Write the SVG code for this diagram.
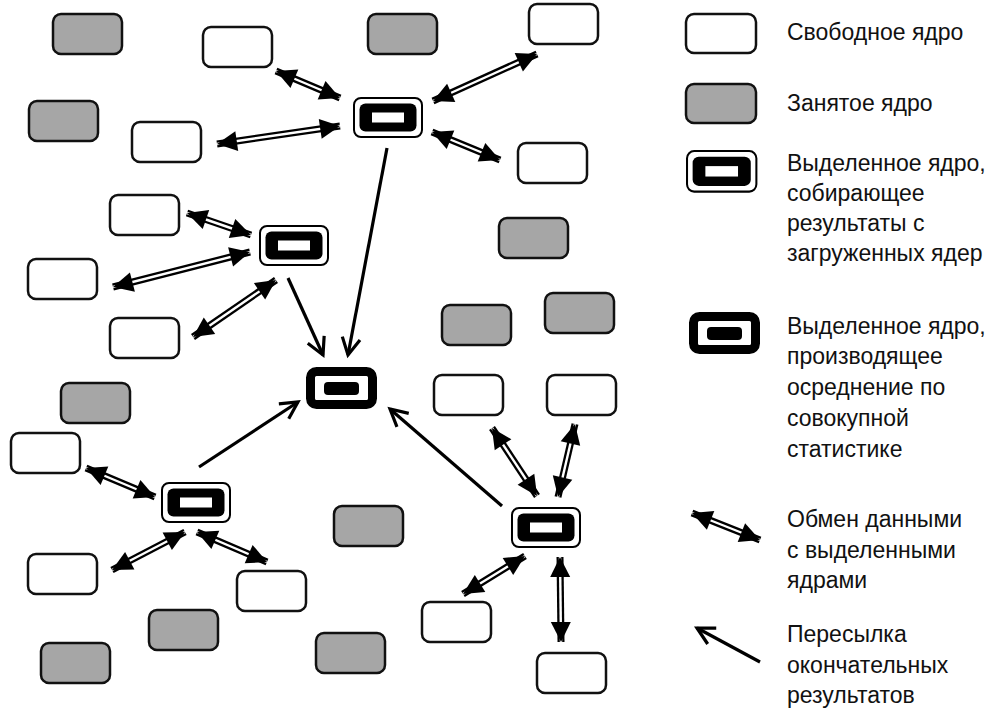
<svg xmlns="http://www.w3.org/2000/svg" width="998" height="708" viewBox="0 0 998 708">
<style>
.free{fill:#fff;stroke:#111;stroke-width:2.5}
.busy{fill:#a6a6a6;stroke:#111;stroke-width:2.5}
.shaft{stroke:#000;stroke-width:7;fill:none}
.gap{stroke:#fff;stroke-width:2.4;fill:none}
.dbl polygon{fill:#000}
.send{stroke:#000;stroke-width:3.2;fill:none;marker-end:url(#chev)}
text{font-family:"Liberation Sans",Arial,sans-serif;font-size:23px;fill:#111}
</style>
<defs>
<marker id="chev" markerUnits="userSpaceOnUse" viewBox="-20 -12 24 24" refX="0" refY="0" markerWidth="24" markerHeight="24" orient="auto" overflow="visible">
<path d="M-17,-9 L0,0 L-17,9" fill="none" stroke="#000" stroke-width="3.2" stroke-linejoin="miter"/>
</marker>
<g id="hub">
<rect x="1" y="1" width="68" height="39" rx="7" fill="#fff" stroke="#000" stroke-width="2"/>
<rect x="6.5" y="6.5" width="57" height="28" rx="6" fill="#000"/>
<rect x="19" y="15.5" width="32" height="10" fill="#fff"/>
</g>
<g id="mainhub">
<rect x="4.5" y="4.5" width="62" height="33" rx="6" fill="#fff" stroke="#000" stroke-width="9"/>
<rect x="18" y="15" width="35" height="13" rx="4" fill="#000"/>
</g>
</defs>
<rect width="998" height="708" fill="#fff"/>

<g id="connectors">
<g class="dbl"><path class="shaft" d="M276,71 L340,98"/><path class="gap" d="M276,71 L340,98"/><polygon points="340,98 317.7,99.4 325.5,81"/><polygon points="276,71 290.5,88 298.3,69.6"/></g>
<g class="dbl"><path class="shaft" d="M433,101 L537,54"/><path class="gap" d="M433,101 L537,54"/><polygon points="537,54 522.9,71.4 514.7,53.1"/><polygon points="433,101 455.3,101.9 447.1,83.7"/></g>
<g class="dbl"><path class="shaft" d="M217,144 L340,126"/><path class="gap" d="M217,144 L340,126"/><polygon points="340,126 321.7,138.8 318.8,119"/><polygon points="217,144 238.2,151 235.3,131.2"/></g>
<g class="dbl"><path class="shaft" d="M432,132 L500,160"/><path class="gap" d="M432,132 L500,160"/><polygon points="500,160 477.7,161.6 485.3,143.1"/><polygon points="432,132 446.7,148.9 454.3,130.4"/></g>
<g class="dbl"><path class="shaft" d="M187,213 L251,235"/><path class="gap" d="M187,213 L251,235"/><polygon points="251,235 228.8,238 235.3,219"/><polygon points="187,213 202.7,229 209.2,210"/></g>
<g class="dbl"><path class="shaft" d="M113,287 L250,252"/><path class="gap" d="M113,287 L250,252"/><polygon points="250,252 233.1,266.6 228.1,247.3"/><polygon points="113,287 134.9,291.7 129.9,272.4"/></g>
<g class="dbl"><path class="shaft" d="M193,337 L276,280"/><path class="gap" d="M193,337 L276,280"/><polygon points="276,280 265.2,299.6 253.9,283.1"/><polygon points="193,337 215.2,333.9 203.8,317.4"/></g>
<g class="dbl"><path class="shaft" d="M86,468 L155,497"/><path class="gap" d="M86,468 L155,497"/><polygon points="155,497 132.7,498.5 140.4,480"/><polygon points="86,468 100.6,485 108.3,466.5"/></g>
<g class="dbl"><path class="shaft" d="M112,570 L185,532"/><path class="gap" d="M112,570 L185,532"/><polygon points="185,532 171.9,550.1 162.6,532.4"/><polygon points="112,570 134.4,569.6 125.1,551.9"/></g>
<g class="dbl"><path class="shaft" d="M197,532 L267,562"/><path class="gap" d="M197,532 L267,562"/><polygon points="267,562 244.7,563.3 252.6,544.9"/><polygon points="197,532 211.4,549.1 219.3,530.7"/></g>
<g class="dbl"><path class="shaft" d="M492,428 L537,496"/><path class="gap" d="M492,428 L537,496"/><polygon points="537,496 517.6,484.8 534.3,473.8"/><polygon points="492,428 494.7,450.2 511.4,439.2"/></g>
<g class="dbl"><path class="shaft" d="M575,424 L558,497"/><path class="gap" d="M575,424 L558,497"/><polygon points="558,497 552.8,475.3 572.3,479.8"/><polygon points="575,424 560.7,441.2 580.2,445.8"/></g>
<g class="dbl"><path class="shaft" d="M463,594 L525,556"/><path class="gap" d="M463,594 L525,556"/><polygon points="525,556 513.2,575 502.7,557.9"/><polygon points="463,594 485.3,592.1 474.8,575"/></g>
<g class="dbl"><path class="shaft" d="M560,557 L561,642"/><path class="gap" d="M560,557 L561,642"/><polygon points="561,642 550.8,622.1 570.8,621.9"/><polygon points="560,557 550.2,577.1 570.2,576.9"/></g>
<path class="send" d="M387,148 L348,355"/>
<path class="send" d="M288,278 L323,355"/>
<path class="send" d="M199,467 L298,402"/>
<path class="send" d="M502,506 L390,409"/>
</g>

<g id="busy-cores">
<rect class="busy" x="53" y="14" width="69" height="40" rx="8"/>
<rect class="busy" x="368" y="14" width="69" height="40" rx="8"/>
<rect class="busy" x="29" y="101" width="69" height="40" rx="8"/>
<rect class="busy" x="499" y="218" width="69" height="40" rx="8"/>
<rect class="busy" x="442" y="305" width="69" height="40" rx="8"/>
<rect class="busy" x="545" y="293" width="69" height="40" rx="8"/>
<rect class="busy" x="61" y="383" width="69" height="40" rx="8"/>
<rect class="busy" x="334" y="506" width="69" height="40" rx="8"/>
<rect class="busy" x="149" y="610" width="69" height="40" rx="8"/>
<rect class="busy" x="316" y="633" width="69" height="40" rx="8"/>
<rect class="busy" x="41" y="643" width="69" height="40" rx="8"/>
</g>
<g id="free-cores">
<rect class="free" x="203" y="27" width="69" height="40" rx="8"/>
<rect class="free" x="529" y="4" width="69" height="40" rx="8"/>
<rect class="free" x="132" y="122" width="69" height="40" rx="8"/>
<rect class="free" x="518" y="143" width="69" height="40" rx="8"/>
<rect class="free" x="110" y="195" width="69" height="40" rx="8"/>
<rect class="free" x="28" y="259" width="69" height="40" rx="8"/>
<rect class="free" x="110" y="318" width="69" height="40" rx="8"/>
<rect class="free" x="434" y="375" width="69" height="40" rx="8"/>
<rect class="free" x="547" y="375" width="69" height="40" rx="8"/>
<rect class="free" x="11" y="433" width="69" height="40" rx="8"/>
<rect class="free" x="28" y="554" width="69" height="40" rx="8"/>
<rect class="free" x="237" y="571" width="69" height="40" rx="8"/>
<rect class="free" x="422" y="602" width="69" height="40" rx="8"/>
<rect class="free" x="537" y="653" width="69" height="40" rx="8"/>
</g>

<g id="hub-top"><use href="#hub" x="353" y="97"/></g>
<g id="hub-left"><use href="#hub" x="259" y="225"/></g>
<g id="hub-bottom-left"><use href="#hub" x="161" y="482"/></g>
<g id="hub-bottom-right"><use href="#hub" x="511" y="507"/></g>
<g id="hub-main"><use href="#mainhub" x="306" y="367"/></g>

<g id="legend">
<rect class="free" x="686" y="14" width="70" height="39" rx="8"/>
<text x="787" y="40">Свободное ядро</text>
<rect class="busy" x="686" y="84" width="70" height="39" rx="8"/>
<text x="787" y="111">Занятое ядро</text>
<use href="#hub" x="686" y="150" transform="translate(686 150) scale(1.02 1.04) translate(-686 -150)"/>
<text x="787" y="171">Выделенное ядро,</text>
<text x="787" y="201">собирающее</text>
<text x="787" y="231">результаты с</text>
<text x="787" y="261">загруженных ядер</text>
<use href="#mainhub" x="689" y="312"/>
<text x="787" y="334">Выделенное ядро,</text>
<text x="787" y="364">производящее</text>
<text x="787" y="395">осреднение по</text>
<text x="787" y="426">совокупной</text>
<text x="787" y="457">статистике</text>
<g class="dbl"><path class="shaft" d="M692,513 L760,540"/><path class="gap" d="M692,513 L760,540"/><polygon points="760,540 737.7,541.9 745.1,523.3"/><polygon points="692,513 706.9,529.7 714.3,511.1"/></g>
<text x="787" y="527">Обмен данными</text>
<text x="787" y="558">с выделенными</text>
<text x="787" y="588">ядрами</text>
<path class="send" d="M760,662 L697,628"/>
<text x="787" y="642">Пересылка</text>
<text x="787" y="673">окончательных</text>
<text x="787" y="703">результатов</text>
</g>
</svg>
